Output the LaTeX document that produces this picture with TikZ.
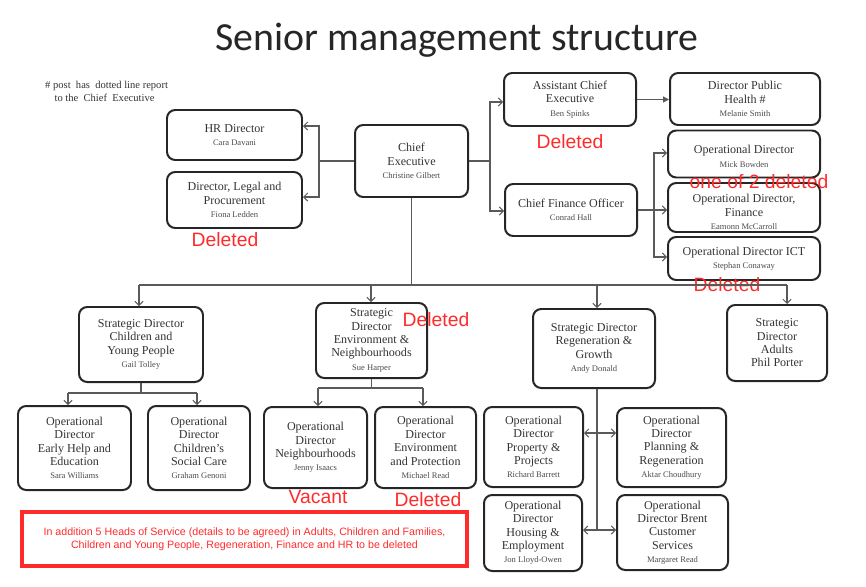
\documentclass[tikz,border=0pt]{standalone}
\usepackage{fontspec}
\setmainfont{Liberation Serif}
\newfontfamily\redfont{Liberation Sans}
\newfontfamily\titlefont{Carlito}
\usetikzlibrary{arrows.meta}

\definecolor{boxline}{HTML}{262626}
\definecolor{linkgray}{HTML}{5A5A5A}
\definecolor{txtgray}{HTML}{333333}
\definecolor{namegray}{HTML}{4A4A4A}
\definecolor{alertred}{HTML}{FF2A2A}

\newcommand{\pname}[1]{{\fontsize{7.3}{8.5}\selectfont\color{namegray}#1}}

\tikzset{
  orgbox/.style 2 args={draw=boxline, line width=1.7pt, rounded corners=7pt,
    minimum width=#1*0.03cm, minimum height=#2*0.03cm, inner sep=1pt,
    align=center, text=txtgray, font=\fontsize{10.3}{11.4}\selectfont},
  link/.style={draw=linkgray, line width=0.9pt},
  arr/.style={link, -{Straight Barb[length=3.5pt,width=7pt]}},
  arrfill/.style={link, -{Triangle[length=5pt,width=5pt]}},
  arrboth/.style={link, {Straight Barb[length=3.5pt,width=7pt]}-{Straight Barb[length=3.5pt,width=7pt]}},
  redtag/.style={text=alertred, font=\redfont\fontsize{16.5}{18}\selectfont, inner sep=0pt},
}

\begin{document}
\begin{tikzpicture}[x=0.03cm, y=-0.03cm]
        \useasboundingbox (0,0) rectangle (866,587);

        % NODES
        % -----------------
        \node[font=\titlefont\fontsize{34}{40}\selectfont, text=black!85] (title) at (457,40) {Senior management structure};
        \node[anchor=north west, align=left, inner sep=0pt, text=txtgray, font=\fontsize{9}{11}\selectfont] (note) at (45,81)
          {\# post\ \ has\ \ dotted line report\\\hspace{8pt}to the\ \ Chief\ \ Executive};

        % Chief executive and direct reports
        \node[orgbox={113}{72}] (ce) at (411.5,161) {Chief\\Executive\\\pname{Christine Gilbert}};
        \node[orgbox={135}{50}] (hr) at (234.5,135) {HR Director\\\pname{Cara Davani}};
        \node[orgbox={135}{56}] (legal) at (234.5,200) {Director, Legal and\\Procurement\\\pname{Fiona Ledden}};
        \node[orgbox={132}{53}] (ace) at (570,99.5) {Assistant Chief\\Executive\\\pname{Ben Spinks}};
        \node[orgbox={150}{52}] (dph) at (745,99) {Director Public\\Health \#\\\pname{Melanie Smith}};
        \node[orgbox={132}{52}] (cfo) at (571,210) {Chief Finance Officer\\\pname{Conrad Hall}};
        \node[orgbox={152}{47}] (odmb) at (744,154) {\rule{0pt}{11pt}Operational Director\\\pname{Mick Bowden}};
        \node[orgbox={152}{49}] (odfin) at (744,207.5) {\rule{0pt}{15pt}Operational Director,\\Finance\\\pname{Eamonn McCarroll}};
        \node[orgbox={152}{43}] (odict) at (744,258.5) {Operational Director ICT\\\pname{Stephan Conaway}};

        % Strategic directors
        \node[orgbox={124}{75}] (sdcyp) at (141,344.5) {Strategic Director\\Children and\\Young People\\\pname{Gail Tolley}};
        \node[orgbox={111}{75}] (sdenv) at (371.5,340.5) {Strategic\\Director\\Environment \&\\Neighbourhoods\\\pname{Sue Harper}};
        \node[orgbox={122}{79}] (sdreg) at (594,348.5) {Strategic Director\\Regeneration \&\\Growth\\\pname{Andy Donald}};
        \node[orgbox={100}{76}] (sdad) at (777,343) {Strategic\\Director\\Adults\\Phil Porter};

        % Operational directors
        \node[orgbox={113}{84}] (odeh) at (74.5,448) {Operational\\Director\\Early Help and\\Education\\\pname{Sara Williams}};
        \node[orgbox={102}{84}] (odcsc) at (199,448) {Operational\\Director\\Children's\\Social Care\\\pname{Graham Genoni}};
        \node[orgbox={103}{81}] (odnb) at (315.5,447.5) {Operational\\Director\\Neighbourhoods\\\pname{Jenny Isaacs}};
        \node[orgbox={101}{81}] (odep) at (425.5,447.5) {Operational\\Director\\Environment\\and Protection\\\pname{Michael Read}};
        \node[orgbox={99}{80}] (odpp) at (533.5,447) {Operational\\Director\\Property \&\\Projects\\\pname{Richard Barrett}};
        \node[orgbox={109}{79}] (odpr) at (671.5,447.5) {Operational\\Director\\Planning \&\\Regeneration\\\pname{Aktar Choudhury}};
        \node[orgbox={98}{76}] (odhe) at (533,533) {Operational\\Director\\Housing \&\\Employment\\\pname{Jon Lloyd-Owen}};
        \node[orgbox={111}{75}] (odbc) at (672.5,532.5) {Operational\\Director Brent\\Customer\\Services\\\pname{Margaret Read}};

        % Red annotations
        \node[redtag] (tlegal) at (225,240) {Deleted};
        \node[redtag] (tace) at (570,142) {Deleted};
        \node[redtag] (tfin) at (759,182) {one of 2 deleted};
        \node[redtag] (tict) at (727,285) {Deleted};
        \node[redtag] (tenv) at (436,320) {Deleted};
        \node[redtag] (tnb) at (318,497) {Vacant};
        \node[redtag] (tep) at (428,500) {Deleted};
        \node[draw=alertred, line width=2.6pt, minimum width=445*0.03cm, minimum height=54*0.03cm,
              align=center, text=alertred, font=\redfont\fontsize{9.1}{11.2}\selectfont] (heads) at (244.5,539)
          {In addition 5 Heads of Service (details to be agreed) in Adults, Children and Families,\\
           Children and Young People, Regeneration, Finance and HR to be deleted};

        % JUNCTIONS
        % -----------------
        \coordinate (jhr) at (319,126);
        \coordinate (jlg) at (319,197);
        \coordinate (jace) at (490,102);
        \coordinate (jcfo) at (490,211);
        \coordinate (jmb) at (654,153);
        \coordinate (jict) at (654,257);
        \coordinate (b1) at (139,285);
        \coordinate (b2) at (371,285);
        \coordinate (b3) at (597,285);
        \coordinate (b4) at (787,285);
        \coordinate (jc1) at (68,393);
        \coordinate (jc2) at (197,393);
        \coordinate (je1) at (318,388);
        \coordinate (je2) at (423,388);
        \coordinate (jr1) at (597,433);
        \coordinate (jr2) at (597,530);

        % EDGES
        % -----------------
        \draw[arr] (ce.west) -| (jhr) -- (jhr -| hr.east);
        \draw[arr] (ce.west) -| (jlg) -- (jlg -| legal.east);
        \draw[arr] (ce.east) -| (jace) -- (jace -| ace.west);
        \draw[arr] (ce.east) -| (jcfo) -- (jcfo -| cfo.west);
        \draw[arrfill] (ace.east) -- (ace.east -| dph.west);
        \draw[arr] (cfo.east) -- (cfo.east -| odfin.west);
        \draw[arr] (cfo.east) -| (jmb) -- (jmb -| odmb.west);
        \draw[arr] (cfo.east) -| (jict) -- (jict -| odict.west);

        % bus to strategic directors
        \draw[link] (ce.south) -- (ce.south |- b1);
        \draw[link] (b1) -- (b4);
        \draw[arr] (b1) -- (b1 |- sdcyp.north);
        \draw[arr] (b2) -- (b2 |- sdenv.north);
        \draw[arr] (b3) -- (b3 |- sdreg.north);
        \draw[arr] (b4) -- (b4 |- sdad.north);

        % operational directors
        \draw[link] (sdcyp.south) -- (sdcyp.south |- jc1);
        \draw[link] (jc1) -- (jc2);
        \draw[arr] (jc1) -- (jc1 |- odeh.north);
        \draw[arr] (jc2) -- (jc2 |- odcsc.north);
        \draw[link] (sdenv.south) -- (sdenv.south |- je1);
        \draw[link] (je1) -- (je2);
        \draw[arr] (je1) -- (je1 |- odnb.north);
        \draw[arr] (je2) -- (je2 |- odep.north);
        \draw[link] (jr1 |- sdreg.south) -- (jr2);
        \draw[arrboth] (jr1 -| odpp.east) -- (jr1 -| odpr.west);
        \draw[arrboth] (jr2 -| odhe.east) -- (jr2 -| odbc.west);
\end{tikzpicture}
\end{document}
